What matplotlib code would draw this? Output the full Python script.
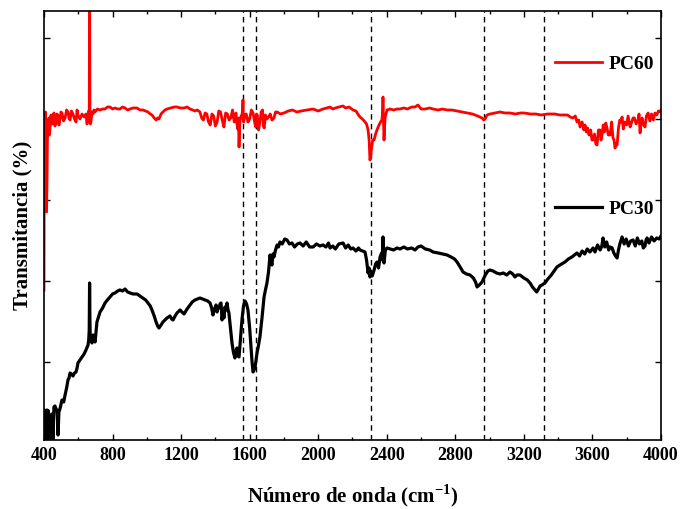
'''
    FTIR spectra PC30 / PC60
'''
import matplotlib.pyplot as plt
from matplotlib.ticker import MultipleLocator

plt.rcParams['font.family'] = ['Liberation Serif', 'DejaVu Serif']
plt.rcParams['font.weight'] = 'bold'
plt.rcParams['mathtext.fontset'] = 'custom'
plt.rcParams['mathtext.rm'] = 'Liberation Serif:bold'
plt.rcParams['mathtext.bf'] = 'Liberation Serif:bold'

# PC30 (black) - wavenumber (cm-1) and transmittance (arbitrary units)
pc30_x = [400, 403, 406, 409, 412, 415, 418, 421, 423, 426, 429, 432, 435, 441, 447,
          452, 458, 464, 470, 476, 479, 482, 487, 493, 505, 515, 523, 532, 540, 546,
          552, 560, 569, 578, 587, 593, 598, 610, 622, 634, 645, 652, 657, 661, 664,
          666, 668, 670, 674, 680, 686, 692, 698, 709, 718, 727, 742, 756, 770, 785,
          800, 814, 830, 843, 858, 873, 888, 902, 920, 943, 960, 978, 993, 1007, 1020,
          1030, 1043, 1054, 1063, 1071, 1083, 1094, 1106, 1118, 1135, 1145, 1153, 1165,
          1176, 1194, 1205, 1217, 1235, 1252, 1265, 1281, 1295, 1310, 1325, 1339, 1355,
          1369, 1378, 1386, 1395, 1404, 1410, 1415, 1421, 1427, 1433, 1439, 1444, 1450,
          1456, 1462, 1468, 1474, 1479, 1488, 1497, 1505, 1514, 1520, 1526, 1532, 1538,
          1546, 1555, 1564, 1573, 1582, 1590, 1600, 1608, 1614, 1620, 1631, 1643, 1652,
          1660, 1672, 1684, 1692, 1701, 1710, 1719, 1725, 1730, 1736, 1742, 1751, 1760,
          1768, 1777, 1790, 1805, 1818, 1832, 1847, 1862, 1878, 1894, 1912, 1930, 1950,
          1970, 1990, 2010, 2028, 2045, 2060, 2069, 2085, 2100, 2120, 2145, 2160, 2175,
          2190, 2203, 2220, 2235, 2244, 2258, 2273, 2282, 2291, 2297, 2302, 2308, 2315,
          2326, 2335, 2343, 2352, 2361, 2370, 2375, 2378, 2381, 2384, 2392, 2401, 2420,
          2440, 2460, 2477, 2500, 2520, 2545, 2565, 2582, 2600, 2625, 2650, 2670, 2700,
          2725, 2752, 2775, 2795, 2810, 2828, 2845, 2865, 2886, 2905, 2918, 2927, 2940,
          2956, 2975, 2990, 3002, 3020, 3040, 3061, 3080, 3100, 3119, 3135, 3148, 3160,
          3177, 3200, 3220, 3236, 3250, 3265, 3275, 3285, 3295, 3306, 3323, 3340, 3360,
          3393, 3420, 3440, 3460, 3480, 3495, 3510, 3525, 3540, 3555, 3570, 3585, 3595,
          3604, 3615, 3630, 3645, 3655, 3662, 3672, 3683, 3695, 3703, 3715, 3725, 3735,
          3744, 3752, 3760, 3773, 3785, 3797, 3810, 3823, 3837, 3850, 3862, 3875, 3888,
          3897, 3907, 3913, 3919, 3930, 3945, 3960, 3975, 3990, 4000]
pc30_y = [5, 30, 2, 28, -5, 26, 30, -5, 27, 29, -5, 22, 2, 25, 26,
          -5, 33, 34, 31, 30, 20, 5, 28, 31, 40, 38, 45, 52, 60, 62,
          67, 66, 64, 67, 68, 72, 77, 80, 83, 86, 90, 93, 95, 100, 110,
          157, 120, 100, 102, 97, 105, 101, 98, 118, 123, 128, 132, 137, 140, 143,
          146, 147, 149, 150, 149, 151, 148, 147, 146, 146, 144, 142, 140, 137, 134,
          130, 124, 118, 114, 112, 115, 118, 120, 122, 124, 121, 120, 124,
          127, 130, 128, 126, 131, 135, 138, 140, 141, 142, 141, 140, 139,
          137, 132, 125, 131, 135, 128, 133, 132, 136, 137, 120, 128, 122,
          133, 130, 137, 130, 127, 112, 97, 88, 82, 89, 92, 84, 83,
          100, 120, 134, 139, 136, 130, 112, 93, 78, 68, 72, 87, 95,
          103, 122, 143, 150, 157, 168, 185, 178, 175, 186, 183, 190, 195,
          193, 198, 196, 201, 200, 196, 197, 193, 196, 197, 194, 198, 193,
          193, 196, 194, 195, 193, 197, 192, 194, 191, 196, 197, 192, 195,
          191, 192, 189, 192, 190, 189, 188, 180, 167, 172, 163, 168, 164,
          170, 176, 178, 172, 183, 187, 180, 203, 180, 177, 190, 192, 191,
          190, 192, 191, 193, 191, 192, 190, 193, 194, 191, 190, 188, 187,
          186, 185, 183, 181, 178, 173, 168, 166, 165, 162, 158, 153, 155,
          158, 165, 169, 170, 169, 167, 166, 167, 165, 168, 166, 163, 165,
          165, 162, 160, 157, 153, 150, 148, 151, 154, 155, 157, 161, 165,
          173, 176, 178, 181, 183, 185, 187, 184, 189, 186, 191, 188, 190,
          192, 188, 195, 190, 194, 202, 193, 198, 190, 193, 192, 187, 184,
          182, 190, 196, 203, 196, 201, 194, 199, 200, 194, 202, 196, 199,
          192, 194, 200, 202, 197, 203, 199, 202, 201, 204]

# PC60 (red)
pc60_x = [400, 401, 403, 406, 409, 412, 415, 418, 420, 423, 426, 429, 432, 435, 441,
          447, 452, 458, 464, 470, 476, 482, 487, 493, 499, 505, 514, 523, 532, 540,
          546, 552, 560, 569, 578, 587, 593, 598, 610, 622, 634, 645, 651, 657, 661,
          664, 666, 668, 671, 674, 680, 686, 692, 698, 712, 727, 742, 756, 770, 785,
          800, 814, 830, 843, 858, 873, 888, 902, 920, 943, 960, 978, 993, 1007, 1020,
          1030, 1043, 1054, 1063, 1071, 1083, 1094, 1106, 1118, 1140, 1160, 1176, 1195,
          1217, 1235, 1252, 1268, 1281, 1295, 1310, 1320, 1330, 1340, 1350, 1360, 1370,
          1380, 1390, 1400, 1410, 1420, 1430, 1440, 1450, 1460, 1470, 1480, 1490, 1500,
          1510, 1520, 1526, 1530, 1535, 1538, 1542, 1545, 1550, 1555, 1559, 1561, 1563,
          1565, 1572, 1580, 1590, 1600, 1610, 1620, 1628, 1635, 1640, 1645, 1652, 1660,
          1667, 1675, 1680, 1685, 1692, 1700, 1710, 1720, 1730, 1742, 1751, 1760, 1780,
          1800, 1825, 1850, 1875, 1900, 1935, 1970, 2000, 2028, 2050, 2069, 2085, 2100,
          2120, 2145, 2160, 2180, 2203, 2220, 2235, 2244, 2258, 2273, 2282, 2291, 2297,
          2302, 2306, 2310, 2318, 2326, 2335, 2343, 2352, 2361, 2367, 2372, 2376, 2378,
          2380, 2384, 2390, 2401, 2420, 2440, 2460, 2477, 2500, 2520, 2545, 2565, 2582,
          2600, 2625, 2650, 2670, 2700, 2725, 2752, 2780, 2810, 2840, 2870, 2900, 2930,
          2956, 2966, 2973, 2985, 3002, 3030, 3061, 3090, 3119, 3150, 3180, 3200, 3240,
          3270, 3300, 3340, 3380, 3410, 3440, 3455, 3470, 3485, 3500, 3510, 3520, 3528,
          3540, 3550, 3557, 3565, 3572, 3580, 3590, 3597, 3604, 3612, 3620, 3627, 3635,
          3644, 3650, 3656, 3663, 3670, 3678, 3685, 3693, 3703, 3712, 3720, 3726, 3732,
          3738, 3744, 3752, 3760, 3767, 3773, 3780, 3788, 3800, 3808, 3820, 3830, 3837,
          3845, 3855, 3866, 3872, 3878, 3884, 3890, 3898, 3907, 3915, 3925, 3935, 3945,
          3955, 3965, 3975, 3985, 3995, 4000]
pc60_y = [150, 250, 325, 318, 328, 300, 228, 262, 300, 318, 310, 322, 305, 312, 325,
          316, 322, 327, 314, 318, 326, 324, 315, 320, 328, 327, 319, 322, 330, 328,
          322, 320, 329, 326, 321, 318, 330, 325, 321, 326, 323, 326, 316, 320, 329,
          325, 470, 326, 316, 318, 328, 326, 330, 328, 331, 330, 331, 331, 333, 333,
          331, 332, 331, 331, 333, 332, 330, 331, 332, 332, 330, 330, 329, 328, 326,
          325, 322, 320, 322, 321, 326, 328, 330, 331, 332, 333, 333, 332,
          332, 333, 331, 330, 329, 330, 328, 322, 320, 327, 326, 318, 315,
          326, 324, 314, 318, 329, 328, 320, 313, 327, 326, 320, 322, 330,
          318, 327, 316, 311, 322, 293, 315, 320, 324, 325, 330, 340, 320,
          318, 325, 326, 318, 321, 330, 327, 319, 313, 326, 325, 310, 318,
          328, 330, 314, 312, 325, 321, 323, 326, 320, 322, 328, 328, 326,
          327, 329, 330, 328, 329, 330, 331, 329, 331, 332, 333, 331, 332,
          333, 334, 332, 333, 330, 329, 325, 323, 321, 318, 316, 310, 300,
          280, 283, 290, 300, 300, 306, 310, 314, 317, 319, 320, 330, 343,
          325, 300, 322, 330, 331, 330, 331, 331, 332, 331, 333, 333, 335,
          331, 331, 332, 331, 330, 331, 330, 330, 329, 328, 327, 326, 324,
          322, 320, 321, 325, 326, 327, 328, 327, 327, 326, 327, 327, 326,
          326, 325, 326, 326, 325, 325, 325, 323, 322, 324, 318, 320, 313,
          318, 310, 315, 308, 312, 305, 310, 300, 300, 306, 296, 295, 310,
          310, 300, 305, 315, 308, 317, 312, 305, 305, 318, 302, 300, 292,
          296, 295, 312, 320, 318, 323, 311, 318, 315, 324, 313, 318, 322,
          322, 316, 320, 326, 307, 318, 322, 315, 313, 324, 327, 319, 326,
          320, 327, 325, 329, 328, 330]

# dashed reference lines
band_lines = [1561, 1637, 2308, 2967, 3318]

fig = plt.figure(figsize=(6.81, 5.09), dpi=100)
ax = fig.add_axes([0.0646, 0.1356, 0.906, 0.8428])

for xv in band_lines:
    ax.axvline(xv, color='black', linestyle='--', linewidth=1.0, dashes=(4, 3))

l60, = ax.plot(pc60_x, pc60_y, color='#ff0000', linewidth=2.0)
l30, = ax.plot(pc30_x, pc30_y, color='black', linewidth=2.3)

ax.set_xlim(400, 4000)
ax.set_ylim(0, 429)
ax.xaxis.set_major_locator(MultipleLocator(400))
ax.xaxis.set_minor_locator(MultipleLocator(200))
ax.set_yticks([78, 159, 240, 321, 402])
ax.set_yticklabels([])
ax.tick_params(axis='both', which='both', direction='in', top=True, right=True)
ax.tick_params(axis='both', which='major', length=4, width=1.0, labelsize=13, pad=5)
ax.tick_params(axis='both', which='minor', length=2.5, width=1.0)
for sp in ax.spines.values():
    sp.set_linewidth(1.2)

ax.set_xlabel('Número de onda (cm$^{\\mathbf{-1}}$)', fontsize=15, fontweight='bold', labelpad=13)
ax.set_ylabel('Transmitancia (%)', fontsize=15, fontweight='bold', labelpad=3)

leg1 = ax.legend([l60], ['PC60'], loc='center left', bbox_to_anchor=(0.80, 0.876),
                 frameon=False, handlelength=2.4, handletextpad=0.35,
                 prop={'size': 14, 'weight': 'bold'})
ax.add_artist(leg1)
ax.legend([l30], ['PC30'], loc='center left', bbox_to_anchor=(0.80, 0.538),
          frameon=False, handlelength=2.4, handletextpad=0.35,
          prop={'size': 14, 'weight': 'bold'})

fig.savefig('out.png', dpi=100)
